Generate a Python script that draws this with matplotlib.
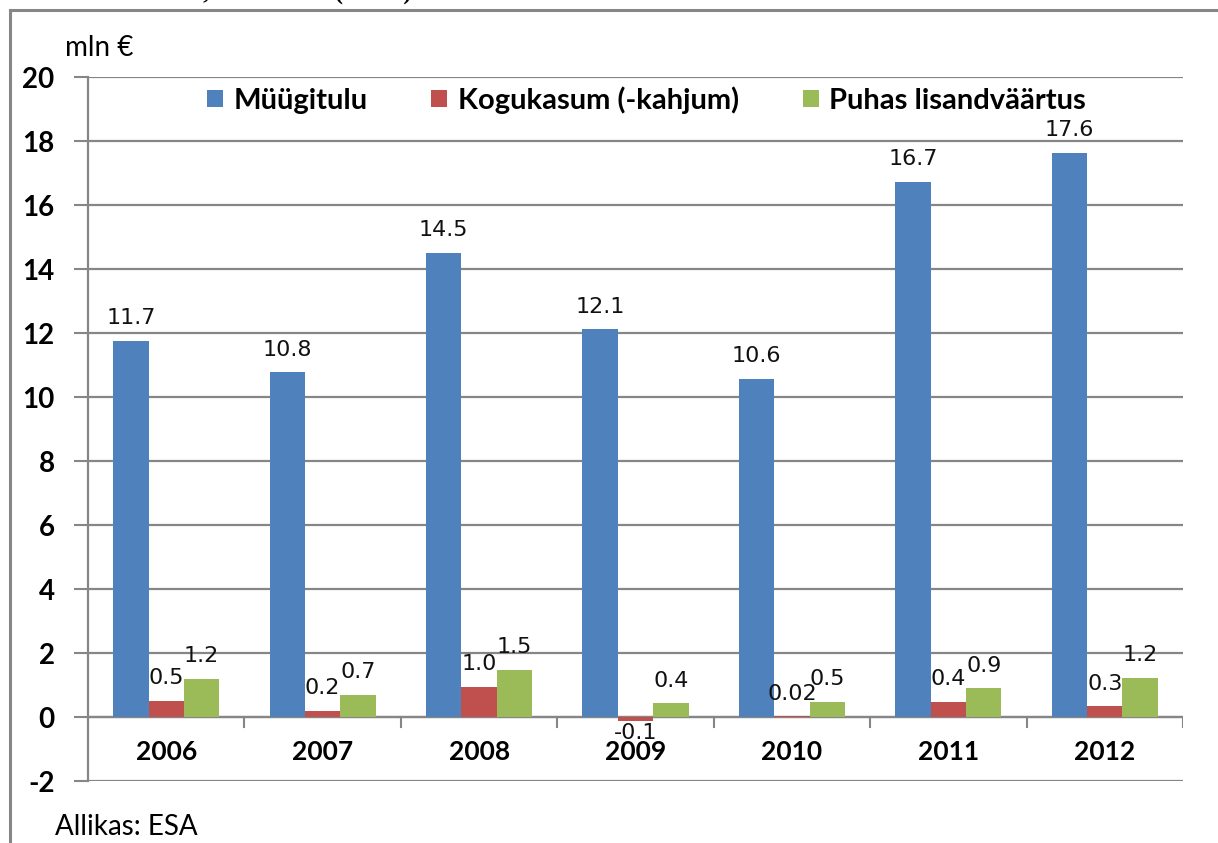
import numpy as np
import matplotlib.pyplot as plt
from matplotlib.lines import Line2D

# data (mln €)
years = ['2006', '2007', '2008', '2009', '2010', '2011', '2012']
myygitulu = [11.75, 10.78, 14.5, 12.12, 10.57, 16.73, 17.63]
kogukasum = [0.5, 0.19, 0.94, -0.13, 0.02, 0.47, 0.34]
lisandvaartus = [1.19, 0.69, 1.47, 0.43, 0.47, 0.9, 1.22]

myygitulu_labels = ['11.7', '10.8', '14.5', '12.1', '10.6', '16.7', '17.6']
kogukasum_labels = ['0.5', '0.2', '1.0', '-0.1', '0.02', '0.4', '0.3']
lisandvaartus_labels = ['1.2', '0.7', '1.5', '0.4', '0.5', '0.9', '1.2']

series_names = ['Müügitulu', 'Kogukasum (-kahjum)', 'Puhas lisandväärtus']
colors = ['#4F81BD', '#C0504D', '#9BBB59']
yticks = list(range(-2, 21, 2))

grid_col = '#868686'
main_font = ['Lato', 'DejaVu Sans']
label_font = ['DejaVu Sans']

fig = plt.figure(figsize=(12.18, 8.43), dpi=100)
ax = fig.add_axes([88 / 1218, 1 - 781 / 843, 1095 / 1218, 704 / 843])

x = np.arange(len(years))
w = 0.226
series = [myygitulu, kogukasum, lisandvaartus]
labels = [myygitulu_labels, kogukasum_labels, lisandvaartus_labels]

for i, (vals, labs) in enumerate(zip(series, labels)):
    pos = x + (i - 1) * w
    ax.bar(pos, vals, width=w, color=colors[i], label=series_names[i], zorder=3)
    for px, v, t in zip(pos, vals, labs):
        if v < 0:
            ax.annotate(t, (px, v), xytext=(0, -1), textcoords='offset points',
                        ha='center', va='top', fontsize=16, family=label_font,
                        color='#111111', zorder=4)
        else:
            ax.annotate(t, (px, v), xytext=(0, 9), textcoords='offset points',
                        ha='center', va='bottom', fontsize=16, family=label_font,
                        color='#111111', zorder=4)

ax.set_xlim(-0.5, len(years) - 0.5)
ax.set_ylim(-2, 20)
ax.set_yticks(yticks)
ax.set_yticklabels([str(t) for t in yticks], fontsize=20, fontweight='bold',
                   family=main_font)
ax.yaxis.grid(True, color=grid_col, linewidth=1.6, zorder=0)
ax.tick_params(axis='y', length=10, width=1.5, color=grid_col, pad=14)

# x axis sits at zero, with category boundary ticks
ax.set_xticks([])
ax.axhline(0, color=grid_col, linewidth=1.6, zorder=2)
for b in np.arange(0.5, len(years) - 0.5, 1.0):
    ax.plot([b, b], [0, -0.32], color=grid_col, linewidth=1.5, zorder=2,
            clip_on=False)
ax.plot([len(years) - 0.5] * 2, [0, -0.32], color=grid_col, linewidth=1.5)
for xi, yr in zip(x, years):
    ax.text(xi, -1.1, yr, ha='center', va='center', fontsize=19,
            fontweight='bold', family=main_font)

for s in ['top', 'right', 'bottom']:
    ax.spines[s].set_visible(False)
ax.spines['left'].set_color(grid_col)
ax.spines['left'].set_linewidth(1.6)

leg = ax.legend(loc='center', bbox_to_anchor=(0.51, 0.967), ncol=3, frameon=False,
                prop={'family': main_font, 'weight': 'bold', 'size': 21},
                handlelength=0.55, handleheight=0.55, handletextpad=0.35,
                columnspacing=2.2)

fig.text(65 / 1218, 1 - 48 / 843, 'mln €', fontsize=20, family=main_font,
         va='center', ha='left')
fig.text(55 / 1218, 1 - 827 / 843, 'Allikas: ESA', fontsize=20, family=main_font,
         va='center', ha='left')
# caption cut off at the top edge of the picture
fig.text(2 / 1218, 1 - 4 / 843, 'lisandväärtus EKV, 2006–2012 (mln €)',
         fontsize=18, fontweight='bold', family=['Liberation Serif'],
         va='bottom', ha='left')

# outer frame (left and top only are visible)
fig.add_artist(Line2D([10 / 1218, 10 / 1218], [0, 1 - 10 / 843],
                      transform=fig.transFigure, color=grid_col, linewidth=2.2))
fig.add_artist(Line2D([10 / 1218, 1], [1 - 10 / 843, 1 - 10 / 843],
                      transform=fig.transFigure, color=grid_col, linewidth=2.2))

fig.savefig('out.png', dpi=100)
